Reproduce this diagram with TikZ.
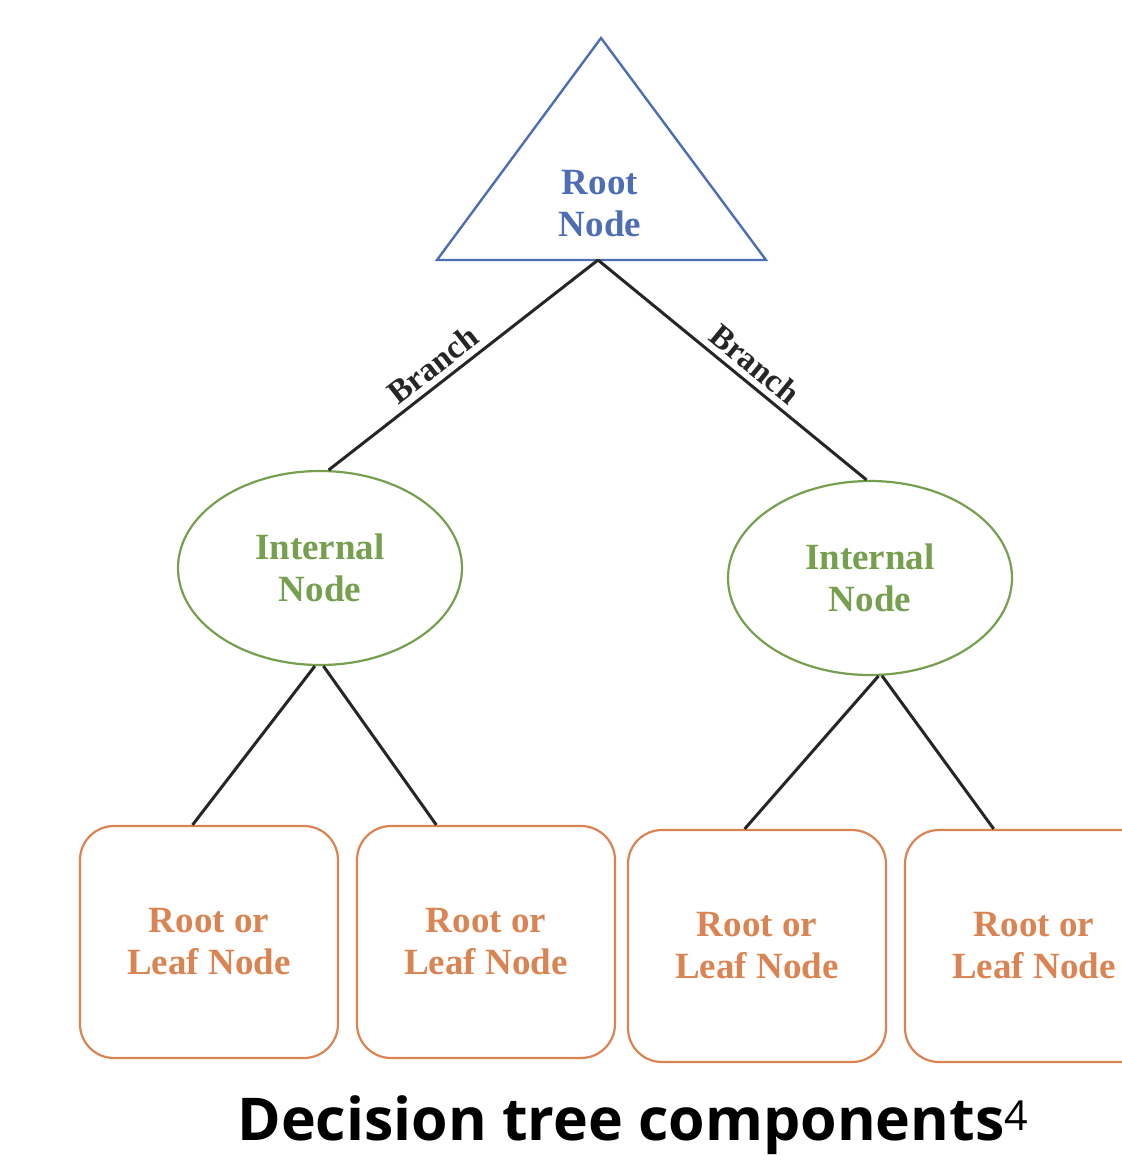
\documentclass[tikz,border=0pt]{standalone}
\usepackage{fontspec}
\setmainfont{Liberation Serif}
\newfontfamily\captionfont{Open Sans}
\usetikzlibrary{shapes.geometric}
\definecolor{rootblue}{RGB}{78,110,180}
\definecolor{internalgreen}{RGB}{118,160,80}
\definecolor{leaforange}{RGB}{218,132,84}
\begin{document}
\begin{tikzpicture}[x=1pt,y=1pt]
\tikzstyle{every node}+=[inner sep=0pt, align=center, font=\bfseries\fontsize{37}{42}\selectfont]
\tikzstyle{internal}=[ellipse, draw=internalgreen, text=internalgreen, line width=2.2pt, minimum width=284pt, minimum height=194pt]
\tikzstyle{leaf}=[rectangle, rounded corners=34pt, draw=leaforange, text=leaforange, line width=2.2pt, minimum width=258pt, minimum height=232pt]
\tikzstyle{branch}=[line width=3pt, black!85]
\tikzstyle{branchlabel}=[sloped, above=6pt, font=\bfseries\fontsize{33}{36}\selectfont]
\useasboundingbox (0,0) rectangle (1122,-1160);
\fill[white] (0,0) rectangle (1122,-1160);
% root
\draw[rootblue, line width=2.4pt] (601,-38) -- (766,-260) -- (437,-260) -- cycle;
\coordinate (root) at (598,-260);
\node[text=rootblue] (rootlabel) at (600,-204) {Root\\Node};
% internal nodes
\node[internal] (int1) at (320,-568) {Internal\\Node};
\node[internal] (int2) at (870,-578) {Internal\\Node};
% leaves
\node[leaf] (leaf1) at (209,-942) {Root or\\Leaf Node};
\node[leaf] (leaf2) at (486,-942) {Root or\\Leaf Node};
\node[leaf] (leaf3) at (757,-946) {Root or\\Leaf Node};
\node[leaf] (leaf4) at (1034,-946) {Root or\\Leaf Node};
% branches
\draw[branch] (root) -- node[branchlabel, pos=0.57] {Branch} (int1.85);
\draw[branch] (root) -- node[branchlabel, pos=0.54] {Branch} (int2.92);
\draw[branch] (int1.-93) -- (leaf1.98);
\draw[branch] (int1.-88) -- (leaf2.113);
\draw[branch] (int2.-85) -- (leaf3.96);
\draw[branch] (int2.-83) -- (leaf4.109);
% caption
\node[anchor=base, font=\captionfont\bfseries\fontsize{59}{64}\selectfont] (caption) at (633,-1140) {Decision tree components\textsuperscript{\mdseries 4}};
\end{tikzpicture}
\end{document}
